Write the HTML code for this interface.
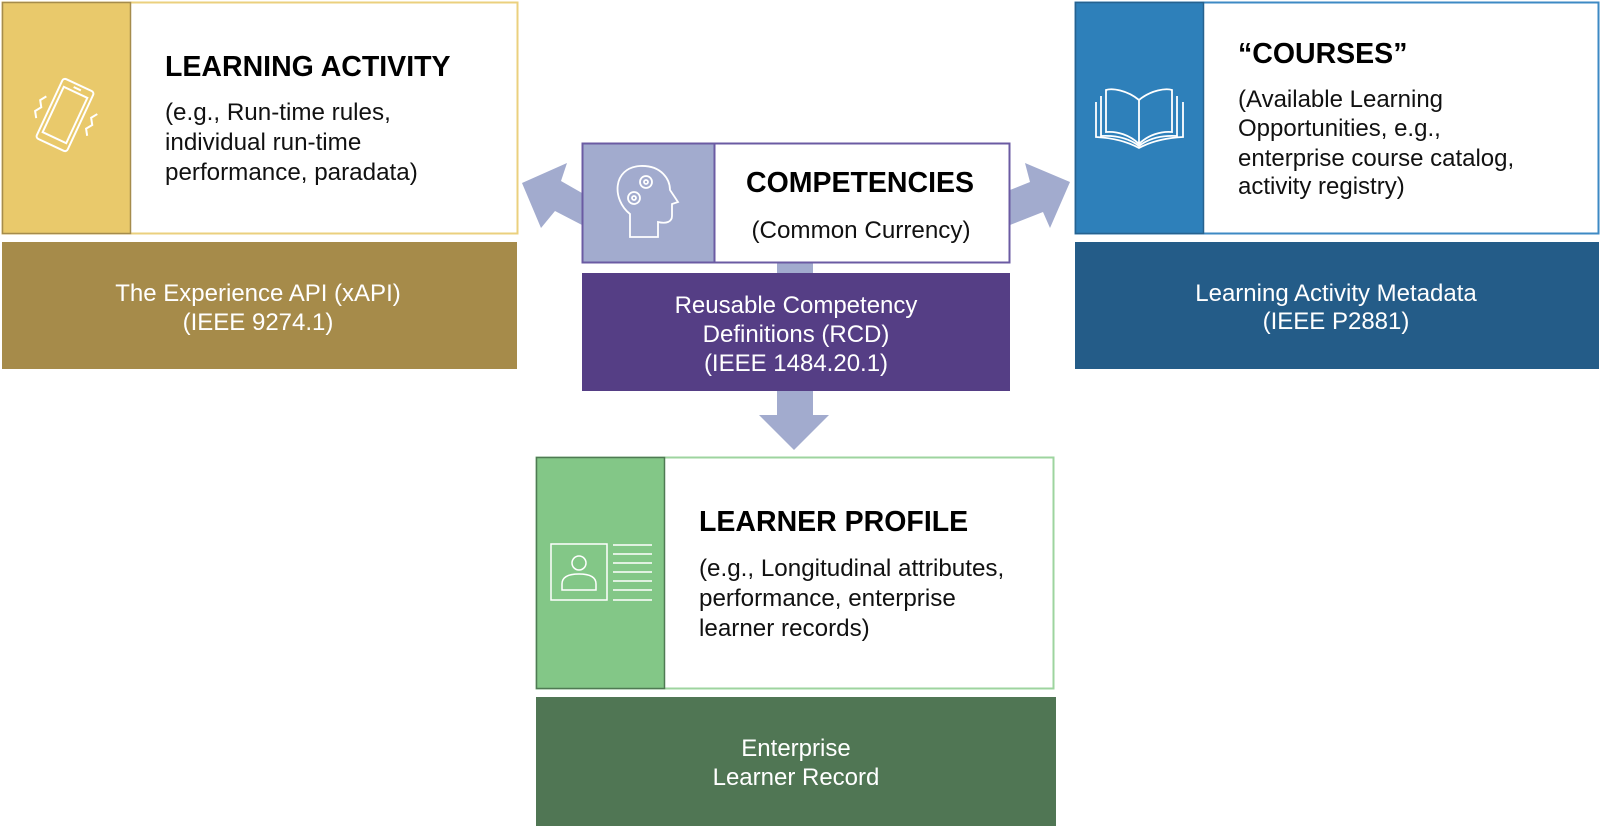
<!DOCTYPE html>
<html><head><meta charset="utf-8"><style>
body{margin:0;background:#fff;}
svg text{font-family:"Liberation Sans",Arial,sans-serif;}
</style></head><body>
<svg width="1600" height="826" viewBox="0 0 1600 826" xmlns="http://www.w3.org/2000/svg">
<!-- Learning Activity -->
<rect x="2.5" y="2.5" width="515" height="231" fill="#fff" stroke="#EBD07E" stroke-width="2"/>
<rect x="2.5" y="2.5" width="128" height="231" fill="#E9C96B" stroke="#A58C4C" stroke-width="1.5"/>
<g transform="translate(65,115) rotate(25)" fill="none" stroke="#fff" stroke-width="2">
<rect x="-17" y="-33" width="34" height="66" rx="3"/>
<rect x="-13" y="-25" width="26" height="50"/>
<line x1="-4" y1="-29" x2="4" y2="-29"/>
</g>
<path d="M40 95 l-4 6 l4 6 l-4 6 l4 6" fill="none" stroke="#fff" stroke-width="2" transform="rotate(25 40 110)"/>
<path d="M92 112 l-4 6 l4 6 l-4 6 l4 6" fill="none" stroke="#fff" stroke-width="2" transform="rotate(25 90 125)"/>
<text x="165" y="76" font-size="28.5" font-weight="bold" fill="#000">LEARNING ACTIVITY</text>
<text font-size="24.2" fill="#111"><tspan x="165" y="120">(e.g., Run-time rules,</tspan><tspan x="165" y="150">individual run-time</tspan><tspan x="165" y="180">performance, paradata)</tspan></text>
<rect x="2" y="242" width="515" height="127" fill="#A68B4A"/>
<text font-size="24" fill="#fff" text-anchor="middle"><tspan x="258" y="301">The Experience API (xAPI)</tspan><tspan x="258" y="330">(IEEE 9274.1)</tspan></text>

<!-- arrows -->
<polygon points="582,193 561,181 567,163 522,183 541,228 555,211 582,225" fill="#A2ABCE"/>
<polygon points="1010,190 1030,182 1025,163 1070,182 1050,228 1043,212 1010,225" fill="#A2ABCE"/>
<polygon points="777,263 813,263 813,415 829,415 794,450 759,415 777,415" fill="#A2ABCE"/>

<!-- Competencies -->
<rect x="582.5" y="143.5" width="427" height="119" fill="#fff" stroke="#6B5BA3" stroke-width="2"/>
<rect x="582.5" y="143.5" width="132" height="119" fill="#A2ABCE" stroke="#6B5BA3" stroke-width="2"/>
<g fill="none" stroke="#fff" stroke-width="1.8">
<path d="M630 237 L630 214 C612 200 612 168 640 166 C662 165 670 180 670 190 L678 202 L672 204 L672 216 C672 222 666 224 658 222 L658 237 Z"/>
<circle cx="646" cy="182" r="6"/><circle cx="646" cy="182" r="2"/>
<circle cx="634" cy="198" r="6"/><circle cx="634" cy="198" r="2"/>
</g>
<text x="860" y="192" font-size="28.5" font-weight="bold" fill="#000" text-anchor="middle">COMPETENCIES</text>
<text x="861" y="238" font-size="24.2" fill="#111" text-anchor="middle">(Common Currency)</text>
<rect x="582" y="273" width="428" height="118" fill="#553E85"/>
<text font-size="24" fill="#fff" text-anchor="middle"><tspan x="796" y="313">Reusable Competency</tspan><tspan x="796" y="342">Definitions (RCD)</tspan><tspan x="796" y="371">(IEEE 1484.20.1)</tspan></text>

<!-- Courses -->
<rect x="1075.5" y="2.5" width="523" height="231" fill="#fff" stroke="#3E8AC4" stroke-width="2"/>
<rect x="1075.5" y="2.5" width="128" height="231" fill="#2E80BA" stroke="#26628F" stroke-width="1.5"/>
<g fill="none" stroke="#fff" stroke-width="1.8">
<path d="M1139 144 L1139 100 C1127 90 1112 88 1106 90 L1106 132 C1117 131 1130 135 1139 144 C1148 135 1161 131 1172 132 L1172 90 C1166 88 1151 90 1139 100"/>
<path d="M1101 96 L1101 136 C1118 135 1130 139 1139 146 C1148 139 1160 135 1177 136 L1177 96"/>
<path d="M1096 102 L1096 137 C1115 138 1128 142 1139 148 C1150 142 1163 138 1183 137 L1183 102"/>
</g>
<text x="1238" y="63" font-size="28.5" font-weight="bold" fill="#000">“COURSES”</text>
<text font-size="24" fill="#111"><tspan x="1238" y="107">(Available Learning</tspan><tspan x="1238" y="136">Opportunities, e.g.,</tspan><tspan x="1238" y="166">enterprise course catalog,</tspan><tspan x="1238" y="194">activity registry)</tspan></text>
<rect x="1075" y="242" width="524" height="127" fill="#245C88"/>
<text font-size="24" fill="#fff" text-anchor="middle"><tspan x="1336" y="301">Learning Activity Metadata</tspan><tspan x="1336" y="329">(IEEE P2881)</tspan></text>

<!-- Learner profile -->
<rect x="536.5" y="457.5" width="517" height="231" fill="#fff" stroke="#9ED49F" stroke-width="2"/>
<rect x="536.5" y="457.5" width="128" height="231" fill="#83C787" stroke="#4F7A53" stroke-width="1.5"/>
<g fill="none" stroke="#fff" stroke-width="1.5">
<rect x="551" y="544" width="56" height="56"/>
<circle cx="579" cy="563" r="7"/>
<path d="M562 590 L562 584 C562 576 570 574 579 574 C588 574 596 576 596 584 L596 590 Z"/>
<path d="M613 545 H652 M613 554 H652 M613 563 H652 M613 572 H652 M613 581 H652 M613 590 H652 M613 600 H652"/>
</g>
<text x="699" y="531" font-size="28.5" font-weight="bold" fill="#000">LEARNER PROFILE</text>
<text font-size="24.2" fill="#111"><tspan x="699" y="576">(e.g., Longitudinal attributes,</tspan><tspan x="699" y="606">performance, enterprise</tspan><tspan x="699" y="636">learner records)</tspan></text>
<rect x="536" y="697" width="520" height="129" fill="#507654"/>
<text font-size="24" fill="#fff" text-anchor="middle"><tspan x="796" y="756">Enterprise</tspan><tspan x="796" y="785">Learner Record</tspan></text>
</svg>
</body></html>
